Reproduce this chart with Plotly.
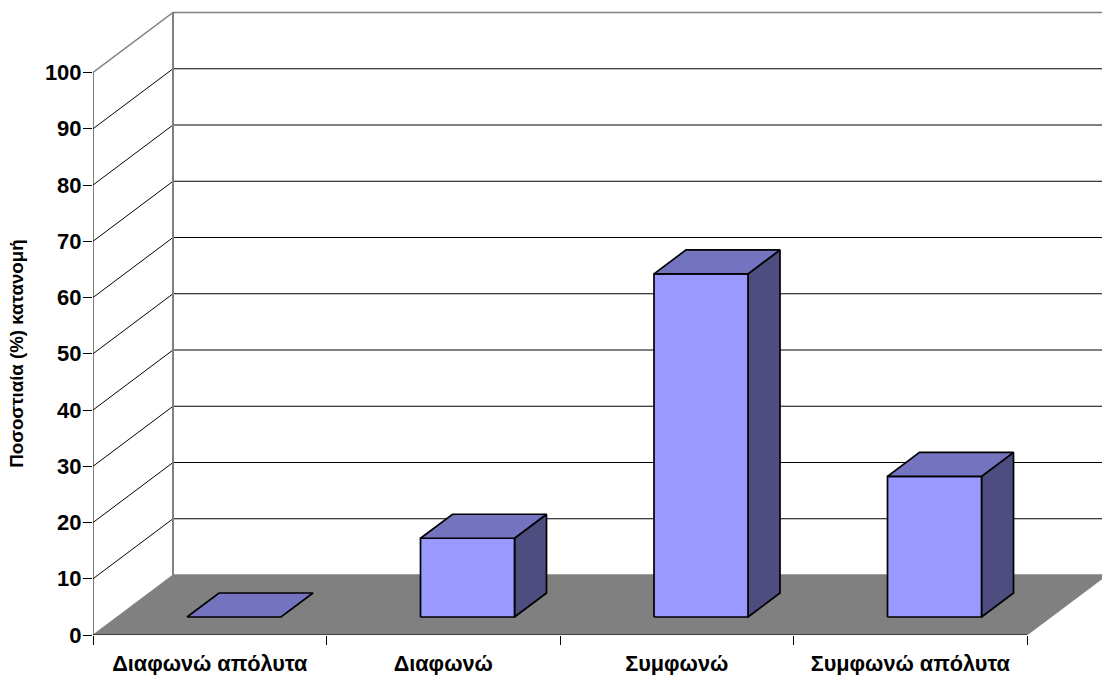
import plotly.graph_objects as go

# Chart data
categories = ["Διαφωνώ απόλυτα", "Διαφωνώ", "Συμφωνώ", "Συμφωνώ απόλυτα"]
percentages = [0, 14, 61, 25]
value_ticks = [0, 10, 20, 30, 40, 50, 60, 70, 80, 90, 100]
axis_title = "Ποσοστιαία (%) κατανομή"

# Oblique projection: one unit of depth moves a point right and up on the axes
DEPTH_X = 80 / 233.5
DEPTH_Y = 60 / 5.625
BAR_LEFT, BAR_RIGHT = 0.2998, 0.7024
BAR_NEAR, BAR_FAR = 0.3, 0.7

FONT = "Liberation Sans, Arial, sans-serif"
GRAY = "#808080"
FRONT = "#9999FF"
TOP = "#7373BF"
SIDE = "#4D4D80"


def project(c, v, d):
    return c + d * DEPTH_X, v + d * DEPTH_Y


def path(points, color, width, fill=None):
    xs, ys = zip(*[project(*p) for p in points])
    return go.Scatter(
        x=xs, y=ys, mode="lines", hoverinfo="skip", showlegend=False,
        cliponaxis=False,
        line=dict(color=color, width=width, simplify=False),
        fill="toself" if fill else None,
        fillcolor=fill,
    )


n = len(categories)
top_value = value_ticks[-1]
fig = go.Figure()

# Floor
fig.add_trace(path([(0, 0, 0), (n, 0, 0), (n, 0, 1), (0, 0, 1), (0, 0, 0)], GRAY, 1, GRAY))

# Wall gridlines, side wall first and then the back wall
for v in value_ticks[1:]:
    color = GRAY if v == top_value else "#000000"
    fig.add_trace(path([(0, v, 0), (0, v, 1), (n, v, 1)], color, 1.5 if v == top_value else 1))
fig.add_trace(path([(0, 0, 1), (0, top_value, 1)], GRAY, 2))
fig.add_trace(path([(0, 0, 1), (n, 0, 1)], GRAY, 1))

# Axis lines and the floor's front edge
fig.add_trace(path([(0, 0, 0), (0, top_value, 0)], "#000000", 1))
fig.add_trace(path([(0, 0, 0), (n, 0, 0)], "#000000", 1.2))

# Bars
for i, value in enumerate(percentages):
    l, r = i + BAR_LEFT, i + BAR_RIGHT
    near, far = BAR_NEAR, BAR_FAR
    if value > 0:
        fig.add_trace(path([(r, 0, near), (r, 0, far), (r, value, far), (r, value, near), (r, 0, near)],
                           "#000000", 1.7, SIDE))
        fig.add_trace(path([(l, 0, near), (r, 0, near), (r, value, near), (l, value, near), (l, 0, near)],
                           "#000000", 1.7, FRONT))
    fig.add_trace(path([(l, value, near), (r, value, near), (r, value, far), (l, value, far), (l, value, near)],
                       "#000000", 1.7, TOP))

# Axis title sits beside the wall, centred on the value scale
fig.add_annotation(
    text=f"<b>{axis_title}</b>",
    xref="paper", yref="y", x=-76 / 1009, y=50,
    xanchor="center", yanchor="middle",
    textangle=-90, showarrow=False,
    font=dict(size=18.7, family=FONT, color="#000000"),
)

fig.update_layout(
    width=1102, height=675,
    margin=dict(l=93, r=0, t=0, b=40),
    paper_bgcolor="#FFFFFF", plot_bgcolor="rgba(0,0,0,0)",
    showlegend=False,
    font=dict(family=FONT, color="#000000"),
    xaxis=dict(
        automargin=False,
        range=[0, (1102 - 93) / 233.5],
        showgrid=False, zeroline=False, showline=False, fixedrange=True,
        tickmode="array",
        tickvals=[i + 0.5 for i in range(n)],
        ticktext=[f"<b>{c}</b>" for c in categories],
        ticks="outside", ticklen=9, tickcolor="rgba(0,0,0,0)",
        tickfont=dict(size=21.7, family=FONT),
        minor=dict(tickmode="array", tickvals=list(range(n + 1)),
                   ticks="outside", ticklen=9, tickwidth=1, tickcolor="#000000", showgrid=False),
    ),
    yaxis=dict(
        automargin=False,
        range=[0, 635 / 5.625],
        showgrid=False, zeroline=False, showline=False, fixedrange=True,
        tickmode="array",
        tickvals=value_ticks,
        ticktext=[f"<b>{v}</b>" for v in value_ticks],
        ticks="outside", ticklen=9, tickwidth=1, tickcolor="#000000",
        ticklabelstandoff=-3,
        tickfont=dict(size=22, family=FONT),
    ),
)

fig.write_html("out.html")
